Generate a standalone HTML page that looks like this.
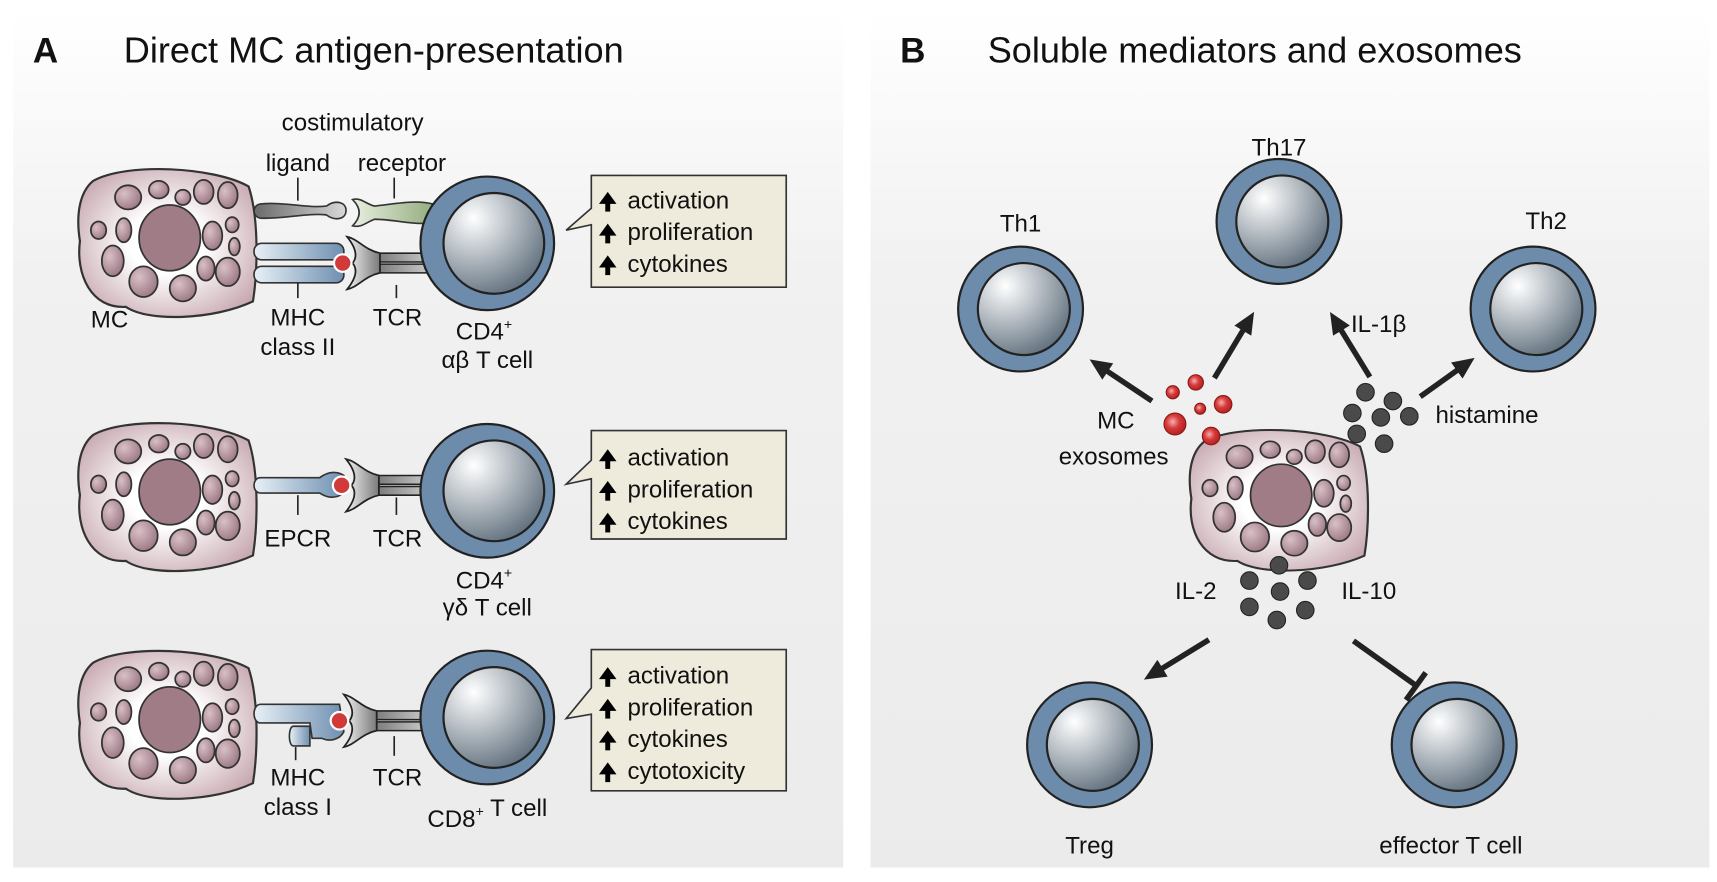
<!DOCTYPE html>
<html><head><meta charset="utf-8"><style>
html,body{margin:0;padding:0;background:#fff}
svg{display:block}
text{font-family:"Liberation Sans",Arial,sans-serif;fill:#111}
</style></head><body>
<svg width="1717" height="882" viewBox="0 0 1568 805" xmlns="http://www.w3.org/2000/svg">
<defs>
<linearGradient id="bg" x1="0" y1="0" x2="0" y2="1">
<stop offset="0" stop-color="#ffffff"/><stop offset="0.3" stop-color="#f1f1f1"/><stop offset="1" stop-color="#ebebeb"/></linearGradient>
<radialGradient id="mcg" cx="0.5" cy="0.5" r="0.6">
<stop offset="0.35" stop-color="#ffffff"/><stop offset="1" stop-color="#c7a9b0"/></radialGradient>
<radialGradient id="gr" cx="0.35" cy="0.35" r="0.7">
<stop offset="0" stop-color="#d9c0c6"/><stop offset="1" stop-color="#9c7884"/></radialGradient>
<radialGradient id="inner" cx="0.3" cy="0.25" r="0.85">
<stop offset="0" stop-color="#ffffff"/><stop offset="1" stop-color="#5b6b79"/></radialGradient>
<radialGradient id="red" cx="0.4" cy="0.4" r="0.6">
<stop offset="0" stop-color="#f3b0b0"/><stop offset="0.5" stop-color="#d83a3a"/><stop offset="1" stop-color="#b52222"/></radialGradient>
<linearGradient id="blue" x1="0" y1="0" x2="1" y2="0">
<stop offset="0" stop-color="#e8f0f6"/><stop offset="1" stop-color="#6e8fb0"/></linearGradient>
<linearGradient id="gray" x1="0" y1="0" x2="1" y2="0">
<stop offset="0" stop-color="#f2f2f2"/><stop offset="1" stop-color="#7a7a7a"/></linearGradient>
<linearGradient id="gray2" x1="0" y1="0" x2="1" y2="0">
<stop offset="0" stop-color="#6a6a6a"/><stop offset="1" stop-color="#d8d8d8"/></linearGradient>
<linearGradient id="green" x1="0" y1="0" x2="1" y2="0">
<stop offset="0" stop-color="#e8efe0"/><stop offset="1" stop-color="#8ea979"/></linearGradient>

<g id="mc">
<path d="M-70,-55 C-40,-72 40,-68 72,-50 C82,-20 80,30 76,55 C40,72 -20,74 -40,60 C-72,62 -86,30 -82,0 C-86,-25 -82,-45 -70,-55 Z" fill="url(#mcg)" stroke="#333" stroke-width="2"/>
<g fill="url(#gr)" stroke="#333" stroke-width="1.6">
<ellipse cx="0" cy="-3" rx="28" ry="30" fill="#a07c87"/>
<ellipse cx="-38" cy="-40" rx="12" ry="11"/><ellipse cx="-10" cy="-47" rx="9" ry="8"/>
<ellipse cx="12" cy="-40" rx="7" ry="7"/><ellipse cx="31" cy="-45" rx="9" ry="11"/>
<ellipse cx="53" cy="-42" rx="9" ry="12"/><ellipse cx="-65" cy="-10" rx="7" ry="8"/>
<ellipse cx="-42" cy="-10" rx="7" ry="11"/><ellipse cx="39" cy="-5" rx="9" ry="13"/>
<ellipse cx="57" cy="-15" rx="6" ry="7"/><ellipse cx="59" cy="5" rx="5" ry="8"/>
<ellipse cx="-52" cy="18" rx="10" ry="14"/><ellipse cx="33" cy="25" rx="8" ry="11"/>
<ellipse cx="-24" cy="37" rx="13" ry="14"/><ellipse cx="12" cy="43" rx="12" ry="12"/>
<ellipse cx="53" cy="28" rx="11" ry="13"/>
</g></g>

<g id="tc">
<circle cx="0" cy="0" r="61" fill="#6d8cab" stroke="#222" stroke-width="2"/>
<circle cx="6" cy="0" r="46" fill="url(#inner)" stroke="#222" stroke-width="2"/>
</g>
<g id="tcs">
<circle cx="0" cy="0" r="57" fill="#6d8cab" stroke="#222" stroke-width="2"/>
<circle cx="3" cy="0" r="42" fill="url(#inner)" stroke="#222" stroke-width="2"/>
</g>

<g id="tcr">
<rect x="22" y="-9" width="66" height="8" rx="4" fill="url(#gray2)" stroke="#222" stroke-width="1.4"/>
<rect x="22" y="1" width="66" height="8" rx="4" fill="url(#gray2)" stroke="#222" stroke-width="1.4"/>
<path d="M4,-24 C14,-22 20,-12 34,-9 L34,9 C20,12 14,22 4,24 C12,14 14,6 9,0 C14,-6 12,-14 4,-24 Z" fill="url(#gray)" stroke="#222" stroke-width="1.6"/>
<circle cx="0" cy="0" r="8" fill="#d23a3a" stroke="#fff" stroke-width="2"/>
</g>

<g id="arr"><path d="M0,2 L0,-10" stroke="#000" stroke-width="4.5"/><path d="M-8,-5 L0,-16 L8,-5 Z" fill="#000"/></g>
<marker id="ah" markerWidth="22" markerHeight="22" refX="2" refY="11" orient="auto" markerUnits="userSpaceOnUse">
<path d="M0,2 L20,11 L0,20 Z" fill="#222"/></marker>
</defs>

<rect width="1568" height="805" fill="#fff"/>
<rect x="12" y="10" width="758" height="782" fill="url(#bg)"/>
<rect x="795" y="10" width="766" height="782" fill="url(#bg)"/>

<text x="30" y="57" font-size="32" font-weight="bold">A</text>
<text x="113" y="57" font-size="33">Direct MC antigen-presentation</text>
<text x="822" y="57" font-size="32" font-weight="bold">B</text>
<text x="902" y="57" font-size="33">Soluble mediators and exosomes</text>

<!-- Row 1 -->
<use href="#mc" x="155" y="220"/>
<path d="M238,186 C260,184 280,190 298,188 C306,182 316,184 316,192 C316,200 306,202 298,196 C280,194 260,200 238,199 C230,198 230,187 238,186 Z" fill="url(#gray2)" stroke="#333" stroke-width="1.5"/>
<path d="M322,182 C330,180 334,186 342,188 C360,186 380,182 395,186 C402,192 402,200 395,203 C380,206 360,200 342,200 C334,203 330,208 322,206 C330,198 330,190 322,182 Z" fill="url(#green)" stroke="#333" stroke-width="1.5"/>
<rect x="232" y="222" width="82" height="15" rx="7" fill="url(#blue)" stroke="#333" stroke-width="1.5"/>
<rect x="232" y="243" width="82" height="15" rx="7" fill="url(#blue)" stroke="#333" stroke-width="1.5"/>
<use href="#tcr" x="313" y="240"/>
<use href="#tc" x="445" y="222"/>
<g stroke="#222" stroke-width="1.5"><line x1="272" y1="162" x2="272" y2="183"/><line x1="360" y1="162" x2="360" y2="181"/><line x1="272" y1="258" x2="272" y2="272"/><line x1="362" y1="260" x2="362" y2="272"/></g>
<g font-size="22" text-anchor="middle">
<text x="322" y="119">costimulatory</text><text x="272" y="156">ligand</text><text x="367" y="156">receptor</text>
<text x="100" y="299">MC</text><text x="272" y="297">MHC</text><text x="272" y="324">class II</text>
<text x="363" y="297">TCR</text><text x="442" y="310">CD4<tspan font-size="13" dy="-10">+</tspan></text><text x="445" y="336">αβ T cell</text>
</g>
<path d="M540,160 L718,160 L718,262 L540,262 L540,205 L517,210 L540,190 Z" fill="#eeeadc" stroke="#333" stroke-width="1.5"/>
<g font-size="22"><text x="573" y="190">activation</text><text x="573" y="219">proliferation</text><text x="573" y="248">cytokines</text></g>
<use href="#arr" x="555" y="191"/><use href="#arr" x="555" y="220"/><use href="#arr" x="555" y="249"/>

<!-- Row 2 -->
<use href="#mc" x="155" y="452"/>
<path d="M238,436 L292,436 C300,430 308,430 314,434 L314,450 C306,456 298,454 292,450 L238,450 C230,450 230,436 238,436 Z" fill="url(#blue)" stroke="#333" stroke-width="1.5"/>
<use href="#tcr" x="312" y="443"/>
<use href="#tc" x="445" y="448"/>
<g stroke="#222" stroke-width="1.5"><line x1="272" y1="452" x2="272" y2="470"/><line x1="362" y1="454" x2="362" y2="470"/></g>
<g font-size="22" text-anchor="middle">
<text x="272" y="499">EPCR</text><text x="363" y="499">TCR</text>
<text x="442" y="537">CD4<tspan font-size="13" dy="-10">+</tspan></text><text x="445" y="562">γδ T cell</text>
</g>
<path d="M540,393 L718,393 L718,492 L540,492 L540,437 L517,442 L540,420 Z" fill="#eeeadc" stroke="#333" stroke-width="1.5"/>
<g font-size="22"><text x="573" y="425">activation</text><text x="573" y="454">proliferation</text><text x="573" y="483">cytokines</text></g>
<use href="#arr" x="555" y="426"/><use href="#arr" x="555" y="455"/><use href="#arr" x="555" y="484"/>

<!-- Row 3 -->
<use href="#mc" x="155" y="660"/>
<path d="M238,643 L310,643 L314,668 C310,676 300,677 294,674 L285,674 L283,660 L238,660 C230,660 230,643 238,643 Z" fill="url(#blue)" stroke="#333" stroke-width="1.5"/>
<path d="M268,663 L283,663 L283,681 L268,681 C263,681 263,663 268,663 Z" fill="url(#blue)" stroke="#333" stroke-width="1.5"/>
<use href="#tcr" x="310" y="658"/>
<use href="#tc" x="445" y="655"/>
<g stroke="#222" stroke-width="1.5"><line x1="270" y1="682" x2="270" y2="694"/><line x1="360" y1="672" x2="360" y2="690"/></g>
<g font-size="22" text-anchor="middle">
<text x="272" y="717">MHC</text><text x="272" y="744">class I</text><text x="363" y="717">TCR</text>
<text x="445" y="755">CD8<tspan font-size="13" dy="-10">+</tspan> T cell</text>
</g>
<path d="M540,593 L718,593 L718,722 L540,722 L540,652 L517,656 L540,628 Z" fill="#eeeadc" stroke="#333" stroke-width="1.5"/>
<g font-size="22"><text x="573" y="624">activation</text><text x="573" y="653">proliferation</text><text x="573" y="682">cytokines</text><text x="573" y="711">cytotoxicity</text></g>
<use href="#arr" x="555" y="625"/><use href="#arr" x="555" y="654"/><use href="#arr" x="555" y="683"/><use href="#arr" x="555" y="712"/>

<!-- Panel B -->
<use href="#tcs" x="932" y="282"/>
<use href="#tcs" x="1168" y="202"/>
<use href="#tcs" x="1400" y="282"/>
<use href="#tcs" x="995" y="680"/>
<use href="#tcs" x="1328" y="680"/>
<g transform="translate(1170,455) scale(1.0,0.95)"><use href="#mc"/></g>

<g fill="url(#red)" stroke="#8a1818" stroke-width="1">
<circle cx="1071" cy="358" r="6"/><circle cx="1092" cy="349" r="7"/><circle cx="1096" cy="373" r="5"/>
<circle cx="1117" cy="369" r="8"/><circle cx="1073" cy="387" r="10"/><circle cx="1106" cy="398" r="8"/>
</g>
<g fill="#4a4a4a" stroke="#222" stroke-width="1">
<circle cx="1247" cy="358" r="8"/><circle cx="1272" cy="366" r="8"/><circle cx="1235" cy="377" r="8"/>
<circle cx="1261" cy="381" r="8"/><circle cx="1287" cy="380" r="8"/><circle cx="1239" cy="396" r="8"/><circle cx="1264" cy="405" r="8"/>
<circle cx="1168" cy="516" r="8"/><circle cx="1141" cy="530" r="8"/><circle cx="1169" cy="540" r="8"/><circle cx="1194" cy="530" r="8"/>
<circle cx="1141" cy="554" r="8"/><circle cx="1166" cy="566" r="8"/><circle cx="1192" cy="557" r="8"/>
</g>

<g stroke="#222" stroke-width="5" fill="none">
<line x1="1052" y1="366" x2="1010" y2="338" marker-end="url(#ah)"/>
<line x1="1109" y1="345" x2="1136" y2="300" marker-end="url(#ah)"/>
<line x1="1251" y1="344" x2="1224" y2="300" marker-end="url(#ah)"/>
<line x1="1297" y1="362" x2="1332" y2="337" marker-end="url(#ah)"/>
<line x1="1104" y1="584" x2="1060" y2="611" marker-end="url(#ah)"/>
<line x1="1236" y1="585" x2="1292" y2="625"/>
<line x1="1284" y1="639" x2="1302" y2="614"/>
</g>

<g font-size="22" text-anchor="middle">
<text x="932" y="211">Th1</text><text x="1168" y="142">Th17</text><text x="1412" y="209">Th2</text>
<text x="1019" y="391">MC</text><text x="1017" y="424">exosomes</text>
<text x="1259" y="303">IL-1β</text><text x="1358" y="386">histamine</text>
<text x="1092" y="547">IL-2</text><text x="1250" y="547">IL-10</text>
<text x="995" y="779">Treg</text><text x="1325" y="779">effector T cell</text>
</g>
</svg>
</body></html>
